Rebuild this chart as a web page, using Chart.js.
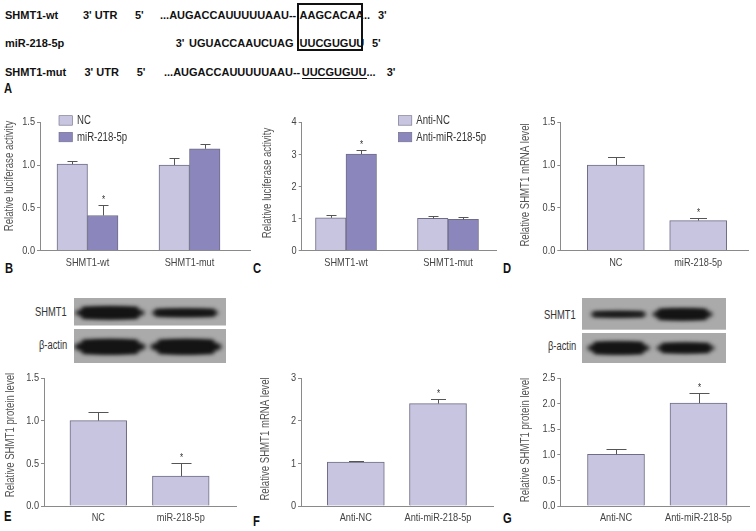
<!DOCTYPE html>
<html>
<head>
<meta charset="utf-8">
<script src="https://cdn.jsdelivr.net/npm/chart.js@4.4.1/dist/chart.umd.min.js"></script>
<style>
  html, body { margin: 0; padding: 0; background: #fff; }
  #fig { position: relative; width: 756px; height: 531px; overflow: hidden; font-family: 'Liberation Sans', Arial, sans-serif; }
  #fig canvas { position: absolute; }
  .t { position: absolute; white-space: pre; line-height: 14px; }
  .seq { font-size: 11px; font-weight: bold; color: #111; }
  .lab { font-size: 14px; font-weight: bold; color: #111; transform: scaleX(0.8); transform-origin: left center; }
  .blot { font-size: 12px; color: #333; transform: scaleX(0.78); transform-origin: right center; }
</style>
</head>
<body>
<div id="fig">
  <!-- panel A: sequences -->
  <span class="t seq" style="left:5px;top:8px">SHMT1-wt</span>
  <span class="t seq" style="left:83px;top:8px">3' UTR</span>
  <span class="t seq" style="left:135px;top:8px">5'</span>
  <span class="t seq" style="left:160px;top:8px">...AUGACCAUUUUUAAU--</span>
  <span class="t seq" style="left:299.5px;top:8px">AAGCACAA</span>
  <span class="t seq" style="left:364px;top:8px">..</span>
  <span class="t seq" style="left:378px;top:8px">3'</span>

  <span class="t seq" style="left:5px;top:36px">miR-218-5p</span>
  <span class="t seq" style="left:175.7px;top:36px">3'</span>
  <span class="t seq" style="left:189px;top:36px">UGUACCAAUCUAG</span>
  <span class="t seq" style="left:299.5px;top:36px">UUCGUGUU</span>
  <span class="t seq" style="left:372px;top:36px">5'</span>

  <span class="t seq" style="left:5px;top:65px">SHMT1-mut</span>
  <span class="t seq" style="left:84.5px;top:65px">3' UTR</span>
  <span class="t seq" style="left:136.7px;top:65px">5'</span>
  <span class="t seq" style="left:164px;top:65px">...AUGACCAUUUUUAAU--</span>
  <span class="t seq" style="left:301.7px;top:65px">UUCGUGUU...</span>
  <span class="t seq" style="left:386.7px;top:65px">3'</span>
  <div style="position:absolute;left:301.7px;top:77.5px;width:65px;height:1.5px;background:#111"></div>
  <div style="position:absolute;left:296.7px;top:3.3px;width:66.6px;height:47.7px;border:2px solid #111;box-sizing:border-box"></div>

  <span class="t lab" style="left:4px;top:81px">A</span>
  <span class="t lab" style="left:5px;top:261px">B</span>
  <span class="t lab" style="left:253px;top:261px">C</span>
  <span class="t lab" style="left:503px;top:261px">D</span>
  <span class="t lab" style="left:4px;top:509px">E</span>
  <span class="t lab" style="left:253px;top:514px">F</span>
  <span class="t lab" style="left:503px;top:511px">G</span>

  <span class="t blot" style="right:689px;top:305px">SHMT1</span>
  <span class="t blot" style="right:689px;top:338px">β-actin</span>
  <span class="t blot" style="right:180px;top:308px">SHMT1</span>
  <span class="t blot" style="right:180px;top:339px">β-actin</span>

  <canvas id="blotE"></canvas>
  <canvas id="blotG"></canvas>

  <canvas id="chartB"></canvas>
  <canvas id="chartC"></canvas>
  <canvas id="chartD"></canvas>
  <canvas id="chartE"></canvas>
  <canvas id="chartF"></canvas>
  <canvas id="chartG"></canvas>
</div>

<script>
// ---- data ----
const reporterSites = ["SHMT1-wt", "SHMT1-mut"];
const mimicGroups = ["NC", "miR-218-5p"];
const inhibitorGroups = ["Anti-NC", "Anti-miR-218-5p"];

// B: luciferase, mimic
const lucNC = [1.01, 1.0];
const lucNCErr = [0.04, 0.08];
const lucMimic = [0.41, 1.19];
const lucMimicErr = [0.12, 0.06];
const lucMimicSig = [true, false];

// C: luciferase, inhibitor
const lucAntiNC = [1.02, 1.0];
const lucAntiNCErr = [0.08, 0.07];
const lucAntiMir = [3.01, 0.97];
const lucAntiMirErr = [0.13, 0.06];
const lucAntiMirSig = [true, false];

// D: mRNA, mimic
const mrnaMimic = [1.0, 0.35];
const mrnaMimicErr = [0.09, 0.03];
const mrnaMimicSig = [false, true];

// E: protein, mimic
const protMimic = [1.0, 0.35];
const protMimicErr = [0.1, 0.15];
const protMimicSig = [false, true];

// F: mRNA, inhibitor
const mrnaAnti = [1.03, 2.4];
const mrnaAntiErr = [0.03, 0.11];
const mrnaAntiSig = [false, true];

// G: protein, inhibitor
const protAnti = [1.01, 2.01];
const protAntiErr = [0.1, 0.19];
const protAntiSig = [false, true];

// western blot band thickness (px), per lane
const blotE_shmt1 = [11.7, 7];
const blotE_actin = [14, 14];
const blotG_shmt1 = [5, 10.7];
const blotG_actin = [11.7, 9.3];

const light = "#c7c5df";
const dark = "#8b87bd";
const edge = "#6e6c86";
const axisColor = "#8a8a8a";
const textColor = "#444";
const sans = "'Liberation Sans', Arial, sans-serif";

// ---- plugins ----
// no condensed font installed: squeeze canvas text horizontally
const condense = {
  id: "condense",
  beforeInit(chart) {
    const ctx = chart.ctx;
    const fill = ctx.fillText.bind(ctx);
    ctx.fillText = (text, x, y, maxWidth) => {
      let w = ctx.measureText(text).width * 0.8;
      if (typeof maxWidth === "number" && maxWidth < w) w = maxWidth;
      fill(text, x, y, w);
    };
  }
};

// y title placed by hand (the original is not always centred on the axis)
const sideTitle = {
  id: "sideTitle",
  afterDraw(chart, args, opts) {
    const ctx = chart.ctx;
    ctx.save();
    ctx.translate(opts.x, opts.y);
    ctx.rotate(-Math.PI / 2);
    ctx.fillStyle = "#555";
    ctx.font = "12px " + sans;
    ctx.textAlign = "center";
    ctx.textBaseline = "middle";
    ctx.fillText(opts.text, 0, 0);
    ctx.restore();
  }
};

const errorBars = {
  id: "errorBars",
  afterDatasetsDraw(chart, args, opts) {
    const ctx = chart.ctx;
    const y = chart.scales.y;
    chart.data.datasets.forEach((ds, i) => {
      const meta = chart.getDatasetMeta(i);
      meta.data.forEach((bar, j) => {
        const top = Math.round(y.getPixelForValue(ds.data[j] + ds.errors[j])) + 0.5;
        const x = Math.round(bar.x) + 0.5;
        ctx.save();
        ctx.strokeStyle = "#555";
        ctx.lineWidth = 1;
        ctx.beginPath();
        ctx.moveTo(x, bar.y);
        ctx.lineTo(x, top);
        ctx.moveTo(x - opts.cap / 2, top);
        ctx.lineTo(x + opts.cap / 2, top);
        ctx.stroke();
        if (ds.sig && ds.sig[j]) {
          ctx.fillStyle = "#333";
          ctx.font = "10px " + sans;
          ctx.textAlign = "center";
          ctx.textBaseline = "middle";
          ctx.fillText("*", x, top - 5);
        }
        ctx.restore();
      });
    });
  }
};

const boxLegend = {
  id: "boxLegend",
  afterDraw(chart, args, opts) {
    if (!opts || opts.x === undefined) return;
    const ctx = chart.ctx;
    chart.data.datasets.forEach((ds, i) => {
      const bx = chart.chartArea.left + opts.x;
      const by = opts.y + i * opts.gap;
      ctx.save();
      ctx.fillStyle = ds.backgroundColor;
      ctx.fillRect(bx, by, 13.5, 9.5);
      ctx.strokeStyle = edge;
      ctx.lineWidth = 0.6;
      ctx.strokeRect(bx, by, 13.5, 9.5);
      ctx.fillStyle = "#333";
      ctx.font = "12px " + sans;
      ctx.textBaseline = "middle";
      ctx.fillText(ds.label, bx + 18, by + 5);
      ctx.restore();
    });
  }
};

function drawPanel(p, labels, datasets) {
  const cv = document.getElementById(p.id);
  cv.width = p.w;
  cv.height = p.h;
  cv.style.left = p.x0 + "px";
  cv.style.top = p.y0 + "px";
  return new Chart(cv, {
    type: "bar",
    data: { labels: labels, datasets: datasets },
    options: {
      responsive: false,
      animation: false,
      devicePixelRatio: 1,
      layout: { padding: { left: 0, top: p.top - p.y0, right: p.x0 + p.w - p.R, bottom: 0 } },
      datasets: { bar: { barThickness: p.barW, borderWidth: 1, borderColor: edge } },
      plugins: {
        legend: { display: false },
        tooltip: { enabled: false },
        errorBars: { cap: p.cap },
        boxLegend: p.legend || {},
        sideTitle: { text: p.title, x: p.tx - p.x0, y: p.ty - p.y0 }
      },
      scales: {
        x: {
          grid: { display: false, drawTicks: false },
          border: { color: axisColor },
          ticks: { color: textColor, font: { family: sans, size: 11.5 }, padding: 5, maxRotation: 0 },
          afterFit: s => { s.height = p.y0 + p.h - p.bottom; },
          afterBuildTicks: s => {
            s._valueRange = (p.R - p.L) / (p.c1 - p.c0);
            s._startValue = -(p.c0 - p.L) / (p.c1 - p.c0);
          }
        },
        y: {
          min: 0,
          max: p.yMax,
          ticks: {
            stepSize: p.yStep,
            color: textColor,
            font: { family: sans, size: 11.5 },
            padding: 2,
            callback: v => v.toFixed(p.dec)
          },
          grid: { drawOnChartArea: false, tickLength: 3, color: axisColor },
          border: { color: axisColor },
          afterFit: s => { s.width = p.L - p.x0; }
        }
      }
    },
    plugins: [condense, errorBars, boxLegend, sideTitle]
  });
}

const single = (vals, errs, sig) => [{ label: "", data: vals, errors: errs, sig: sig, backgroundColor: light }];

drawPanel(
  { id: "chartB", x0: 0, y0: 112, w: 252, h: 164, L: 40, R: 250, top: 122.3, bottom: 250.5,
    c0: 87.5, c1: 189.5, barW: 30.5, cap: 10, yMax: 1.5, yStep: 0.5, dec: 1,
    title: "Relative luciferase activity", tx: 10, ty: 176, legend: { x: 19, y: 3.7, gap: 16.6 } },
  reporterSites,
  [
    { label: mimicGroups[0], data: lucNC, errors: lucNCErr, backgroundColor: light },
    { label: mimicGroups[1], data: lucMimic, errors: lucMimicErr, sig: lucMimicSig, backgroundColor: dark }
  ]
);

drawPanel(
  { id: "chartC", x0: 258, y0: 112, w: 241, h: 164, L: 301.7, R: 496.7, top: 122.3, bottom: 250.5,
    c0: 346, c1: 448, barW: 30.5, cap: 10, yMax: 4, yStep: 1, dec: 0,
    title: "Relative luciferase activity", tx: 268, ty: 183, legend: { x: 96.6, y: 3.7, gap: 16.6 } },
  reporterSites,
  [
    { label: inhibitorGroups[0], data: lucAntiNC, errors: lucAntiNCErr, backgroundColor: light },
    { label: inhibitorGroups[1], data: lucAntiMir, errors: lucAntiMirErr, sig: lucAntiMirSig, backgroundColor: dark }
  ]
);

drawPanel(
  { id: "chartD", x0: 515, y0: 112, w: 240, h: 164, L: 560.3, R: 748, top: 122.3, bottom: 250.5,
    c0: 615.8, c1: 698.2, barW: 57, cap: 17, yMax: 1.5, yStep: 0.5, dec: 1,
    title: "Relative SHMT1 mRNA level", tx: 525.7, ty: 185 },
  mimicGroups, single(mrnaMimic, mrnaMimicErr, mrnaMimicSig)
);

drawPanel(
  { id: "chartE", x0: 1, y0: 368, w: 240, h: 160, L: 44, R: 236, top: 378, bottom: 506,
    c0: 98.3, c1: 180.8, barW: 56.7, cap: 20, yMax: 1.5, yStep: 0.5, dec: 1,
    title: "Relative SHMT1 protein level", tx: 11, ty: 435 },
  mimicGroups, single(protMimic, protMimicErr, protMimicSig)
);

drawPanel(
  { id: "chartF", x0: 255, y0: 368, w: 240, h: 160, L: 301, R: 493, top: 378, bottom: 506,
    c0: 355.8, c1: 438, barW: 57, cap: 15, yMax: 3, yStep: 1, dec: 0,
    title: "Relative SHMT1 mRNA level", tx: 266, ty: 439 },
  inhibitorGroups, single(mrnaAnti, mrnaAntiErr, mrnaAntiSig)
);

drawPanel(
  { id: "chartG", x0: 515, y0: 368, w: 240, h: 160, L: 560.3, R: 749, top: 378, bottom: 506,
    c0: 616, c1: 698.5, barW: 57, cap: 20, yMax: 2.5, yStep: 0.5, dec: 1,
    title: "Relative SHMT1 protein level", tx: 525.7, ty: 440 },
  inhibitorGroups, single(protAnti, protAntiErr, protAntiSig)
);

// ---- western blots ----
function drawBlot(b) {
  const cv = document.getElementById(b.id);
  cv.width = b.w;
  cv.height = b.h;
  cv.style.left = b.x + "px";
  cv.style.top = b.y + "px";
  const ctx = cv.getContext("2d");
  b.strips.forEach(s => {
    ctx.fillStyle = "#aaaaaa";
    ctx.fillRect(0, s.top, b.w, s.height);
    ctx.save();
    ctx.beginPath();
    ctx.rect(0, s.top, b.w, s.height);
    ctx.clip();
    ctx.filter = "blur(2px)";
    ctx.fillStyle = "#141414";
    s.bands.forEach((th, i) => {
      const [x1, x2] = s.lanes[i];
      ctx.beginPath();
      ctx.ellipse((x1 + x2) / 2, s.cy, (x2 - x1) / 2, th / 2, 0, 0, Math.PI * 2);
      ctx.fill();
      ctx.fillRect(x1 + th * 0.6, s.cy - th / 2, x2 - x1 - th * 1.2, th);
    });
    ctx.restore();
  });
}

drawBlot({
  id: "blotE", x: 74, y: 297.5, w: 152, h: 65.5,
  strips: [
    { top: 0, height: 27.5, cy: 14.8, bands: blotE_shmt1, lanes: [[1, 71], [77, 145]] },
    { top: 31, height: 34.5, cy: 48.8, bands: blotE_actin, lanes: [[0, 72], [76, 148]] }
  ]
});

drawBlot({
  id: "blotG", x: 582.3, y: 298, w: 144.4, h: 65,
  strips: [
    { top: 0, height: 31.7, cy: 16.3, bands: blotG_shmt1, lanes: [[8, 65], [70, 131]] },
    { top: 35, height: 30, cy: 50, bands: blotG_actin, lanes: [[5, 68], [74, 133]] }
  ]
});
</script>
</body>
</html>
